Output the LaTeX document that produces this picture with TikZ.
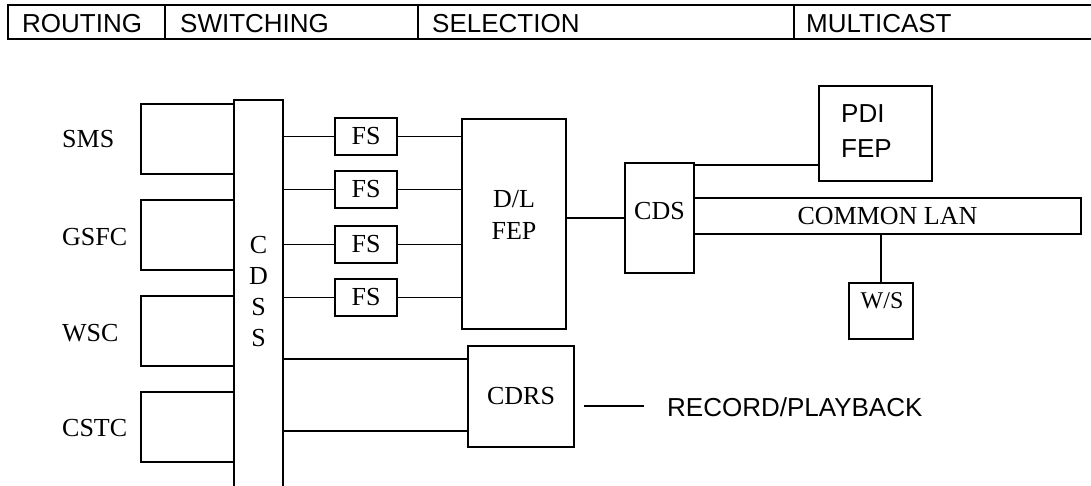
\documentclass[tikz,border=0pt]{standalone}
\usepackage{fontspec}
\setmainfont{Liberation Serif}
\newfontfamily\dgsansfam{Liberation Sans}
\newcommand\dgserif{\fontsize{26}{31.3}\selectfont}
\newcommand\dgsans{\dgsansfam\fontsize{26}{35}\selectfont}
\begin{document}
\begin{tikzpicture}[x=1pt,y=-1pt,
  ln/.style={line width=1.8pt},
  box/.style={draw, line width=1.9pt, inner sep=0pt, font=\dgserif},
  fsbox/.style={draw, line width=2.6pt, inner sep=0pt, font=\dgserif, minimum width=62pt, minimum height=37pt},
  lbl/.style={inner sep=0pt, font=\dgserif},
  slbl/.style={inner sep=0pt, font=\dgsans},
  bar/.style={line width=2.2pt}]
\useasboundingbox (0,0) rectangle (1091,486);
\clip (0,0) rectangle (1091,486);
% header bar
\coordinate (bartl) at (8,5);
\coordinate (barbr) at (1100,39);
\draw[bar] (bartl) rectangle (barbr);
\draw[bar] (165,5) -- (165,39);
\draw[bar] (418,5) -- (418,39);
\draw[bar] (794,5) -- (794,39);
\node[slbl, anchor=base west] (troute) at (22,33) {ROUTING};
\node[slbl, anchor=base west] (tswitch) at (180,33) {SWITCHING};
\node[slbl, anchor=base west] (tselect) at (432,33) {SELECTION};
\node[slbl, anchor=base west] (tmulti) at (806,33) {MULTICAST};
% sources
\node[box, minimum width=93pt, minimum height=70pt] (sms) at (187.5,139) {};
\node[box, minimum width=93pt, minimum height=70pt] (gsfc) at (187.5,235) {};
\node[box, minimum width=93pt, minimum height=70pt] (wsc) at (187.5,331) {};
\node[box, minimum width=93pt, minimum height=70pt] (cstc) at (187.5,427) {};
\node[lbl, anchor=base west] (smsl) at (62,148) {SMS};
\node[lbl, anchor=base west] (gsfcl) at (62,245) {GSFC};
\node[lbl, anchor=base west] (wscl) at (62,341) {WSC};
\node[lbl, anchor=base west] (cstcl) at (62,436) {CSTC};
% CDSS
\node[box, minimum width=49pt, minimum height=430pt] (cdss) at (258.5,315) {};
\node[lbl, text width=30pt, align=center, anchor=base] (cdssl) at (258.5,253) {C\\D\\S\\S};
% FS boxes
\node[fsbox] (fs1) at (366,136.5) {FS};
\node[fsbox] (fs2) at (366,189.5) {FS};
\node[fsbox] (fs3) at (366,244.5) {FS};
\node[fsbox] (fs4) at (366,297.5) {FS};
% D/L FEP
\node[box, minimum width=104pt, minimum height=210pt] (dlfep) at (514,224) {};
\node[lbl, text width=70pt, align=center, anchor=base] (dlfepl) at (514,208) {D/L\\FEP};
\foreach \f in {fs1,fs2,fs3,fs4}{
  \draw[ln] (cdss.east |- \f.west) -- (\f.west);
  \draw[ln] (\f.east) -- (\f.east -| dlfep.west);
}
% CDS
\node[box, minimum width=69pt, minimum height=110pt] (cds) at (659.5,218) {};
\node[lbl, anchor=base] (cdsl) at (659.5,220) {CDS};
\draw[ln] (dlfep.east |- cds.west) -- (cds.west);
% PDI FEP
\node[box, minimum width=113pt, minimum height=95pt] (pdi) at (875.5,133.5) {};
\node[slbl, text width=80pt, align=left, anchor=base west] (pdil) at (841,123) {PDI\\FEP};
\draw[ln] ([yshift=-3pt]cds.north east) -- ([yshift=-3pt]cds.north east -| pdi.west);
% COMMON LAN
\node[box, minimum width=387pt, minimum height=36pt] (lan) at (887.5,216) {COMMON LAN};
% W/S
\node[box, minimum width=64pt, minimum height=56pt] (ws) at (881,311) {};
\node[lbl, font=\fontsize{24}{28}\selectfont, anchor=base] (wsl) at (882,308) {W/S};
\draw[line width=2.6pt] (ws.north) -- (ws.north |- lan.south);
% CDRS
\node[box, minimum width=106pt, minimum height=101pt] (cdrs) at (521,396.5) {CDRS};
\draw[ln] ([yshift=-14pt]cdrs.north west) -- ([yshift=-14pt]cdrs.north west -| cdss.east);
\draw[ln] ([yshift=17pt]cdrs.south west) -- ([yshift=17pt]cdrs.south west -| cdss.east);
% record/playback
\coordinate (rpa) at (584,406);
\coordinate (rpb) at (644,406);
\draw[ln] (rpa) -- (rpb);
\node[slbl, anchor=base west] (rec) at (667,416) {RECORD/PLAYBACK};
\end{tikzpicture}
\end{document}
